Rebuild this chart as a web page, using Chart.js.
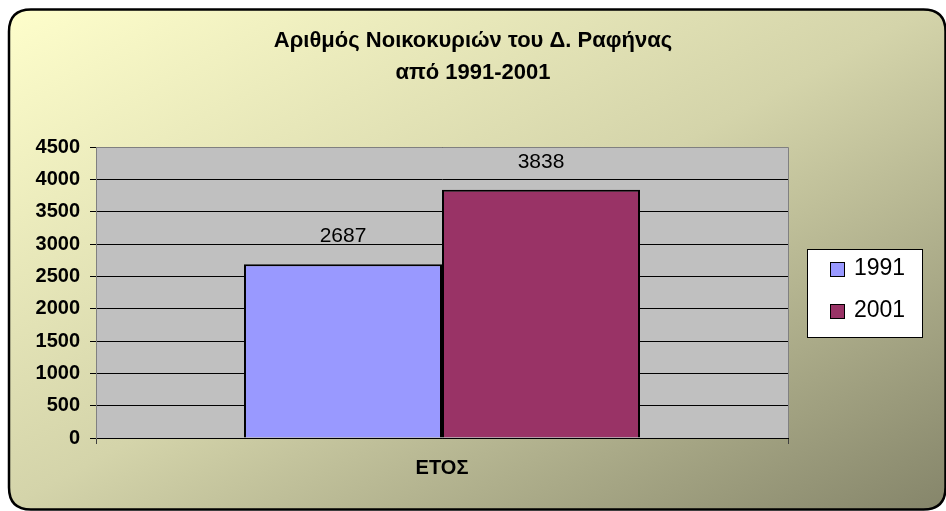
<!DOCTYPE html>
<html>
<head>
<meta charset="utf-8">
<script src="https://cdn.jsdelivr.net/npm/chart.js@4/dist/chart.umd.min.js"></script>
<style>
html,body{margin:0;padding:0;background:#fff;}
#wrap{width:946px;height:511px;}
canvas{display:block;}
</style>
</head>
<body>
<div id="wrap"><canvas id="c" width="946" height="511"></canvas></div>
<script>
// ---- data ----
const categories = ['ΕΤΟΣ'];
const seriesNames = ['1991', '2001'];
const values1991 = [2687];
const values2001 = [3838];
const yTickValues = [0, 500, 1000, 1500, 2000, 2500, 3000, 3500, 4000, 4500];
const titleLines = ['Αριθμός Νοικοκυριών του Δ. Ραφήνας', 'από 1991-2001'];
const seriesColors = ['#9999FF', '#993366'];

const FONT = "'Liberation Sans', Arial, Helvetica, sans-serif";
Chart.defaults.font.family = FONT;
Chart.defaults.color = '#000';

const backgroundPlugin = {
  id: 'bgFrame',
  beforeDraw(chart) {
    const ctx = chart.ctx;
    const W = chart.width, H = chart.height;
    ctx.save();
    ctx.fillStyle = '#ffffff';
    ctx.fillRect(0, 0, W, H);
    const x0 = 9, y0 = 9.5, x1 = W - 0.5, y1 = H - 1.5, r = 22;
    const path = new Path2D();
    path.moveTo(x0 + r, y0);
    path.lineTo(x1 - r, y0);
    path.quadraticCurveTo(x1, y0, x1, y0 + r);
    path.lineTo(x1, y1 - r);
    path.quadraticCurveTo(x1, y1, x1 - r, y1);
    path.lineTo(x0 + r, y1);
    path.quadraticCurveTo(x0, y1, x0, y1 - r);
    path.lineTo(x0, y0 + r);
    path.quadraticCurveTo(x0, y0, x0 + r, y0);
    path.closePath();
    ctx.save();
    ctx.clip(path);
    ctx.setTransform(W, 0, 0, H, 0, 0);
    const g = ctx.createLinearGradient(0, 0, 1, 1);
    g.addColorStop(0, '#FFFFCC');
    g.addColorStop(0.5, '#D4D4AA');
    g.addColorStop(1, '#85856A');
    ctx.fillStyle = g;
    ctx.fillRect(0, 0, 1, 1);
    ctx.restore();
    ctx.lineWidth = 2.5;
    ctx.strokeStyle = '#000';
    ctx.stroke(path);
    // plot area
    const a = chart.chartArea;
    ctx.fillStyle = '#C0C0C0';
    ctx.fillRect(a.left, a.top, a.right - a.left, a.bottom - a.top);
    ctx.restore();
  },
  beforeDatasetsDraw(chart) {
    const ctx = chart.ctx, a = chart.chartArea;
    ctx.save();
    ctx.strokeStyle = '#808080';
    ctx.lineWidth = 1;
    ctx.beginPath();
    ctx.moveTo(a.left, a.top + 0.5);
    ctx.lineTo(a.right + 0.5, a.top + 0.5);
    ctx.lineTo(a.right + 0.5, a.bottom);
    ctx.stroke();
    ctx.restore();
  },
  afterDatasetsDraw(chart) {
    const ctx = chart.ctx;
    ctx.save();
    ctx.font = '21px ' + FONT;
    ctx.fillStyle = '#000';
    ctx.textAlign = 'center';
    ctx.textBaseline = 'middle';
    chart.data.datasets.forEach((ds, i) => {
      const meta = chart.getDatasetMeta(i);
      meta.data.forEach((el, j) => {
        ctx.fillText(String(ds.data[j]), el.x, el.y - 28);
      });
    });
    ctx.restore();
  },
  afterDraw(chart) {
    const ctx = chart.ctx, a = chart.chartArea;
    const left = a.right + 19, top = a.top + 102, w = 115, h = 88;
    ctx.save();
    ctx.fillStyle = '#fff';
    ctx.fillRect(left, top, w, h);
    ctx.strokeStyle = '#000';
    ctx.lineWidth = 1;
    ctx.strokeRect(left + 0.5, top + 0.5, w, h);
    ctx.font = '23px ' + FONT;
    ctx.textBaseline = 'middle';
    ctx.textAlign = 'left';
    chart.data.datasets.forEach((ds, i) => {
      const cy = top + 20 + i * 42;
      ctx.fillStyle = ds.backgroundColor;
      ctx.fillRect(left + 23, cy - 7, 14, 14);
      ctx.strokeStyle = '#000';
      ctx.strokeRect(left + 23.5, cy - 6.5, 14, 14);
      ctx.fillStyle = '#000';
      ctx.fillText(ds.label, left + 47, cy);
    });
    ctx.restore();
  }
};

new Chart(document.getElementById('c'), {
  type: 'bar',
  data: {
    labels: categories,
    datasets: [
      { label: seriesNames[0], data: values1991, backgroundColor: seriesColors[0], borderColor: '#000', borderWidth: 2 },
      { label: seriesNames[1], data: values2001, backgroundColor: seriesColors[1], borderColor: '#000', borderWidth: 2 }
    ]
  },
  options: {
    responsive: false,
    animation: false,
    devicePixelRatio: 1,
    categoryPercentage: 0.5723,
    barPercentage: 1,
    layout: { padding: 0 },
    plugins: {
      legend: { display: false },
      tooltip: { enabled: false },
      title: {
        display: true,
        text: titleLines,
        color: '#000',
        font: { family: FONT, size: 22, weight: 'bold', lineHeight: 32 / 22 },
        padding: { top: 25, bottom: 58 }
      }
    },
    scales: {
      x: {
        type: 'category',
        offset: true,
        grid: { display: true, drawOnChartArea: false, drawTicks: true, tickLength: 6, color: '#404040', offset: true },
        border: { display: true, color: '#000', width: 1 },
        ticks: { font: { family: FONT, size: 20, weight: 'bold' }, color: '#000', padding: 12, maxRotation: 0 },
        afterFit(s) { s.height = 73; }
      },
      y: {
        position: 'left',
        min: 0,
        max: 4500,
        afterBuildTicks(s) { s.ticks = yTickValues.map(v => ({ value: v })); },
        grid: { color: '#000', lineWidth: 1, tickLength: 6, drawTicks: true },
        border: { display: true, color: '#808080', width: 1 },
        ticks: { font: { family: FONT, size: 20, weight: 'bold' }, color: '#000', padding: 10, callback: v => String(v) },
        afterFit(s) { s.width = 96; }
      },
      y2: {
        position: 'right',
        display: true,
        grid: { display: false, drawTicks: false },
        border: { display: false },
        ticks: { display: false },
        afterFit(s) { s.width = 158; }
      }
    }
  },
  plugins: [backgroundPlugin]
});
</script>
</body>
</html>
